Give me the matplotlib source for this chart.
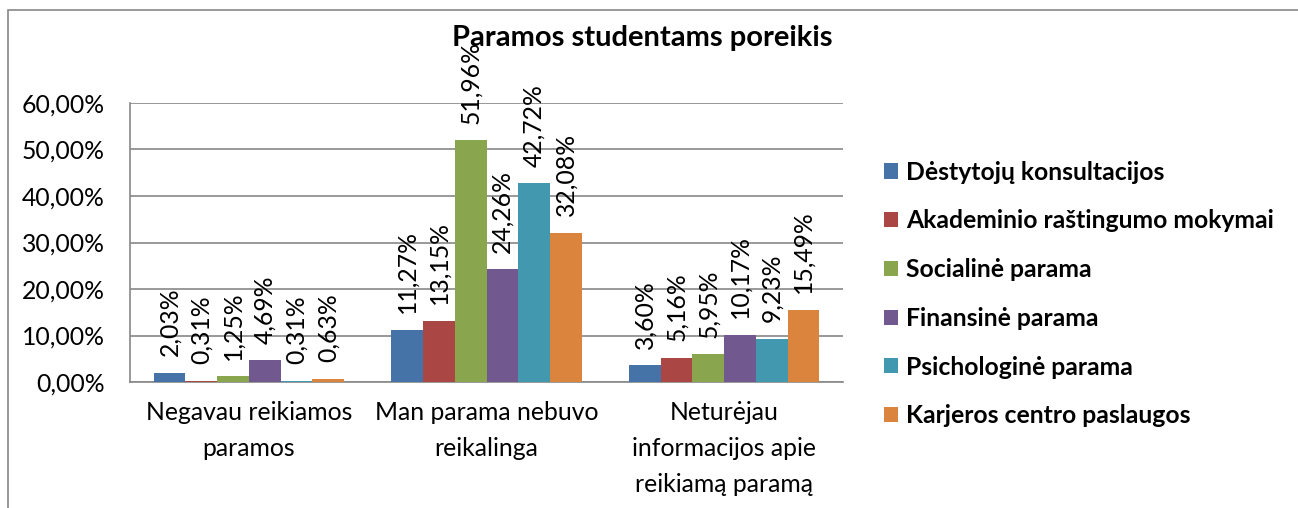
import matplotlib
matplotlib.use("Agg")
import matplotlib.pyplot as plt
import numpy as np
from matplotlib.patches import Rectangle, Patch

plt.rcParams['font.family'] = ['Lato', 'DejaVu Sans']

categories = ["Negavau reikiamos\nparamos", "Man parama nebuvo\nreikalinga",
              "Neturėjau\ninformacijos apie\nreikiamą paramą"]
series_names = ["Dėstytojų konsultacijos", "Akademinio raštingumo mokymai",
                "Socialinė parama", "Finansinė parama", "Psichologinė parama",
                "Karjeros centro paslaugos"]
destytoju = [2.03, 11.27, 3.60]
akademinio = [0.31, 13.15, 5.16]
socialine = [1.25, 51.96, 5.95]
finansine = [4.69, 24.26, 10.17]
psichologine = [0.31, 42.72, 9.23]
karjeros = [0.63, 32.08, 15.49]
yticks = [0, 10, 20, 30, 40, 50, 60]

values = [destytoju, akademinio, socialine, finansine, psichologine, karjeros]
colors = ["#4572A7", "#AA4643", "#89A54E", "#71588F", "#4198AF", "#DB843D"]

FS = 17.8
W, H = 1298, 508
fig = plt.figure(figsize=(W / 100, H / 100), dpi=100)
ax = fig.add_axes([130 / W, 1 - 382 / H, (843 - 130) / W, (382 - 103) / H])

n = len(values)
bw = 1.0 / (n + 1.5)
x = np.arange(len(categories))
for i, (vals, c) in enumerate(zip(values, colors)):
    pos = x - (n * bw) / 2 + bw * (i + 0.5)
    ax.bar(pos, vals, width=bw, color=c, zorder=3, edgecolor='none')
    for p, v in zip(pos, vals):
        ax.annotate(f"{v:.2f}%".replace('.', ','), (p, v), xytext=(0, 12),
                    textcoords='offset points', rotation=90, ha='center',
                    va='bottom', fontsize=FS, color='black', zorder=4,
                    annotation_clip=False)

ax.set_xlim(-0.5, len(categories) - 0.5)
ax.set_ylim(0, 60)
ax.set_yticks(yticks)
ax.set_yticklabels([f"{t:.2f}%".replace('.', ',') for t in yticks], fontsize=FS)
ax.set_xticks(x)
ax.set_xticklabels(categories, fontsize=FS, linespacing=1.66, va='top')
ax.tick_params(axis='both', length=0)
ax.tick_params(axis='y', pad=18)
ax.tick_params(axis='x', pad=14)
ax.yaxis.grid(True, color='#888888', linewidth=1.2, zorder=0)
for s in ['top', 'right']:
    ax.spines[s].set_visible(False)
for s in ['left', 'bottom']:
    ax.spines[s].set_color('#888888')
    ax.spines[s].set_linewidth(1.2)

fig.text(642 / W, 1 - 38 / H, "Paramos studentams poreikis", ha='center',
         va='center', fontsize=21, fontweight='bold')

handles = [Patch(facecolor=c, edgecolor='none') for c in colors]
leg = fig.legend(handles, series_names, loc='center left',
                 bbox_to_anchor=(884 / W, 1 - 294 / H), frameon=False,
                 borderaxespad=0, borderpad=0,
                 prop={'size': FS, 'weight': 'bold'}, handlelength=0.56,
                 handleheight=0.56, handletextpad=0.32, labelspacing=1.04)

fig.add_artist(Rectangle((8 / W, -0.2), 1.2, 1 - 10 / H + 0.2,
                         transform=fig.transFigure, fill=False,
                         edgecolor='#888888', linewidth=1.2, clip_on=False))

fig.savefig("out.png", dpi=100)
